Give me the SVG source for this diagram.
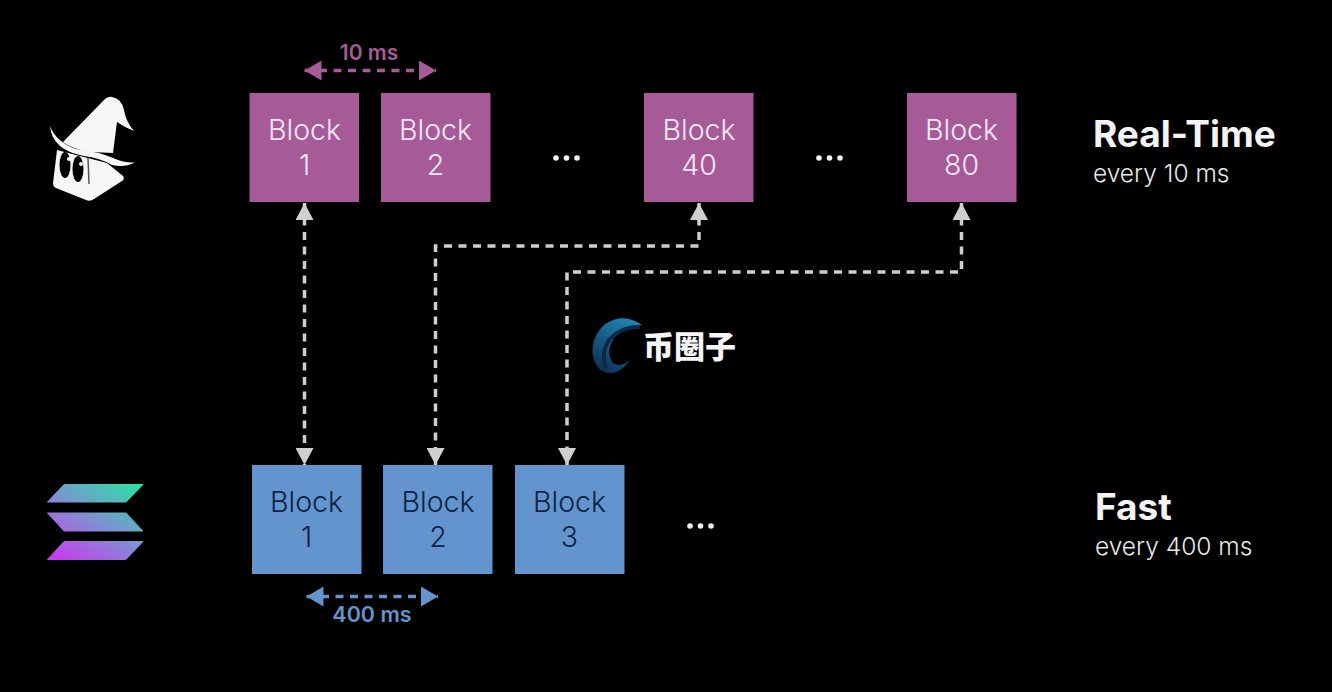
<svg xmlns="http://www.w3.org/2000/svg" width="1332" height="692" viewBox="0 0 1332 692">
<style>
text{font-family:"Inter","Liberation Sans",sans-serif}
.b{font-size:28.500px;font-weight:300;text-anchor:middle}
.p text{fill:#f8e8f4}
.q text{fill:#0d2347}
.pb{fill:#a65a98}
.qb{fill:#6494cd}
.c{fill:none;stroke:#cfcfcf;stroke-width:3.500;stroke-dasharray:8 6.500}
.t{font-size:37px;font-weight:700;fill:#f4f4f4}
.s{font-size:24.500px;font-weight:300;fill:#e8e8e8}
.dot{fill:#f2f2f2}
</style>
<defs>
<marker id="g" viewBox="0 0 17 18" refX="17" refY="9" markerWidth="17" markerHeight="18" markerUnits="userSpaceOnUse" orient="auto-start-reverse"><path d="M0 0L17 9L0 18Z" fill="#cfcfcf"/></marker>
<marker id="m" viewBox="0 0 17 20" refX="17" refY="10" markerWidth="17" markerHeight="20" markerUnits="userSpaceOnUse" orient="auto-start-reverse"><path d="M0 0L17 10L0 20Z" fill="#a65a98"/></marker>
<marker id="n" viewBox="0 0 17 20" refX="17" refY="10" markerWidth="17" markerHeight="20" markerUnits="userSpaceOnUse" orient="auto-start-reverse"><path d="M0 0L17 10L0 20Z" fill="#6494cd"/></marker>
<linearGradient id="sol" gradientUnits="userSpaceOnUse" x1="70" y1="570" x2="125" y2="475"><stop offset="0" stop-color="#cc38f0"/><stop offset="0.5" stop-color="#7f90d2"/><stop offset="1" stop-color="#28e4a4"/></linearGradient>
<linearGradient id="arc" x1="0.800" y1="0" x2="0.300" y2="1"><stop offset="0" stop-color="#1f86b4"/><stop offset="1" stop-color="#0e3358"/></linearGradient>
</defs>
<rect width="1332" height="692" fill="#000"/>

<g id="connectors">
<path class="c" marker-start="url(#g)" marker-end="url(#g)" d="M304.500 203V465"/>
<path class="c" marker-start="url(#g)" marker-end="url(#g)" d="M699 203V246H435.500V465"/>
<path class="c" marker-start="url(#g)" marker-end="url(#g)" d="M961.500 203V272H567V465"/>
<path class="c" style="stroke:#a65a98" marker-start="url(#m)" marker-end="url(#m)" d="M304.500 70.500H436"/>
<path class="c" style="stroke:#6494cd" marker-start="url(#n)" marker-end="url(#n)" d="M306.500 596.500H438"/>
</g>

<g id="wizard-logo">
<path fill="#f6f6f6" d="M63 142L103 101Q108 96 112 97Q122 99 124 110Q126 122 134 131Q124 127 117 122L113 153L90 152Q72 149 63 142Z"/>
<path fill="#f6f6f6" d="M57 150L107 163L123 176Q125 179 122 181L94 199Q90 202 86 200L56 188Q53 187 53 183Z"/>
<path fill="none" stroke="#000" stroke-width="5" d="M54 142Q62 150 88 155Q104 157 113 164Q122 169 136 167"/>
<path fill="#f6f6f6" d="M50 126Q56 142 76 149Q100 152 113 158Q124 163 135 162.500Q124 168 112 165Q100 158 84 156Q52 150 50 126Z"/>
<ellipse cx="65" cy="165" rx="5.500" ry="13" fill="#000"/>
<ellipse cx="78" cy="169" rx="5.500" ry="13" fill="#000"/>
<path d="M88 158L89 184" stroke="#555" stroke-width="1.500"/>
<circle cx="69" cy="159" r="2" fill="#f6f6f6"/>
<circle cx="81" cy="164" r="2" fill="#f6f6f6"/>
</g>

<g id="solana-logo" fill="url(#sol)" stroke="url(#sol)" stroke-width="1" stroke-linejoin="round">
<path d="M64 484.500H143L126 502H47.500Z"/>
<path d="M47.500 513H126L143 531H64Z"/>
<path d="M64 541.500H143L126 559.500H47.500Z"/>
</g>

<g id="rt-1" class="p"><rect class="pb" x="249.500" y="93" width="109.500" height="109"/><text class="b" x="304.500" y="140">Block</text><text class="b" x="304.500" y="175">1</text></g>
<g id="rt-2" class="p"><rect class="pb" x="381" y="93" width="109.500" height="109"/><text class="b" x="435.500" y="140">Block</text><text class="b" x="435.500" y="175">2</text></g>
<g id="rt-40" class="p"><rect class="pb" x="644" y="93" width="109.500" height="109"/><text class="b" x="699" y="140">Block</text><text class="b" x="699" y="175">40</text></g>
<g id="rt-80" class="p"><rect class="pb" x="907" y="93" width="109.500" height="109"/><text class="b" x="961.500" y="140">Block</text><text class="b" x="961.500" y="175">80</text></g>

<g id="fast-1" class="q"><rect class="qb" x="252" y="465" width="109.500" height="109"/><text class="b" x="306.500" y="512">Block</text><text class="b" x="306.500" y="547">1</text></g>
<g id="fast-2" class="q"><rect class="qb" x="383" y="465" width="109.500" height="109"/><text class="b" x="438" y="512">Block</text><text class="b" x="438" y="547">2</text></g>
<g id="fast-3" class="q"><rect class="qb" x="515" y="465" width="109.500" height="109"/><text class="b" x="569.500" y="512">Block</text><text class="b" x="569.500" y="547">3</text></g>

<g id="dots-1" class="dot"><circle cx="556" cy="158" r="2.800"/><circle cx="566.500" cy="158" r="2.800"/><circle cx="577" cy="158" r="2.800"/></g>
<g id="dots-2" class="dot"><circle cx="819" cy="158" r="2.800"/><circle cx="829.500" cy="158" r="2.800"/><circle cx="840" cy="158" r="2.800"/></g>
<g id="dots-3" class="dot"><circle cx="690" cy="526" r="2.800"/><circle cx="700.500" cy="526" r="2.800"/><circle cx="711" cy="526" r="2.800"/></g>

<g id="label-10ms"><text x="369" y="60" text-anchor="middle" font-size="21" font-weight="600" fill="#a65a98">10 ms</text></g>
<g id="label-400ms"><text x="372" y="622" text-anchor="middle" font-size="21.500" font-weight="600" fill="#6494cd">400 ms</text></g>

<g id="label-realtime"><text class="t" x="1093" y="147">Real-Time</text><text class="s" x="1093" y="182">every 10 ms</text></g>
<g id="label-fast"><text class="t" x="1095" y="520">Fast</text><text class="s" x="1095" y="555">every 400 ms</text></g>

<g id="watermark">
<path fill="url(#arc)" d="M642 325Q624 312 605 324Q590 338 593 356Q597 374 612 373Q622 372 630 360Q620 368 613 363Q605 352 614 338Q625 325 642 325Z"/>
<path fill="none" stroke="#0b2a48" stroke-width="4" d="M640 327Q622 326 610 339Q600 352 606 368"/>
<text x="643" y="358" font-size="31" font-weight="900" fill="#f6f6f6" style="font-family:'Noto Sans CJK SC','Liberation Sans',sans-serif">币圈子</text>
</g>
</svg>
